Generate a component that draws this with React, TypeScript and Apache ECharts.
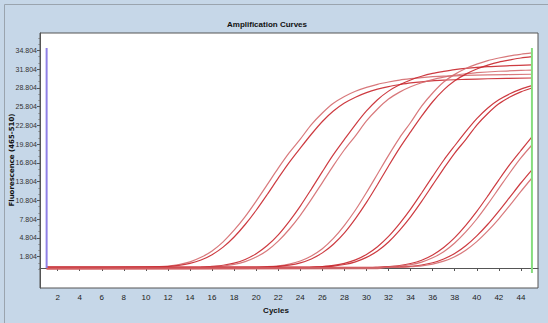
import React, { useEffect, useRef } from "react";
import * as echarts from "echarts";

// Tick labels
const xTicks = [2, 4, 6, 8, 10, 12, 14, 16, 18, 20, 22, 24, 26, 28, 30, 32, 34, 36, 38, 40, 42, 44];
const yTicks = [1.804, 4.804, 7.804, 10.804, 13.804, 16.804, 19.804, 22.804, 25.804, 28.804, 31.804, 34.804];
const yMinorTicks = [
  -0.196, 0.804, 2.804, 3.804, 5.804, 6.804, 8.804, 9.804, 11.804, 12.804, 14.804, 15.804, 17.804, 18.804,
  20.804, 21.804, 23.804, 24.804, 26.804, 27.804, 29.804, 30.804, 32.804, 33.804, 35.804, 36.804,
];

// Amplification curves: [cycle, fluorescence]
const curveA1 = [[1, 0], [10, 0.1], [11, 0.19], [12, 0.31], [13, 0.56], [14, 0.99], [15, 1.71], [16, 2.73], [17, 4.19], [18, 6.05], [19, 8.22], [20, 10.7], [21, 13.33], [22, 15.97], [23, 18.45], [24, 20.62], [25, 22.94], [26, 24.8], [27, 26.35], [28, 27.44], [29, 28.27], [30, 28.89], [31, 29.39], [32, 29.76], [33, 30.07], [34, 30.29], [35, 30.47], [37, 30.69], [39, 30.81], [41, 30.91], [45, 31.0]];
const curveA2 = [[1, 0.15], [11, 0.18], [12, 0.24], [13, 0.41], [14, 0.73], [15, 1.28], [16, 2.13], [17, 3.34], [18, 4.96], [19, 6.96], [20, 9.24], [21, 11.76], [22, 14.38], [23, 16.9], [24, 19.18], [25, 21.4], [26, 23.44], [27, 25.11], [28, 26.39], [29, 27.33], [30, 28.06], [31, 28.61], [32, 29.03], [33, 29.34], [34, 29.61], [35, 29.79], [37, 30.05], [39, 30.18], [41, 30.28], [45, 30.4]];
const curveB1 = [[1, 0], [15, 0.12], [16, 0.25], [17, 0.44], [18, 0.78], [19, 1.37], [20, 2.28], [21, 3.59], [22, 5.31], [23, 7.47], [24, 9.91], [25, 12.62], [26, 15.42], [27, 18.13], [28, 20.57], [29, 22.95], [30, 25.13], [31, 26.93], [32, 28.3], [33, 29.31], [34, 30.09], [35, 30.68], [36, 31.13], [37, 31.46], [38, 31.75], [39, 31.95], [41, 32.21], [43, 32.37], [45, 32.5]];
const curveB2 = [[1, -0.15], [15, -0.05], [16, 0.19], [17, 0.32], [18, 0.57], [19, 1.02], [20, 1.75], [21, 2.8], [22, 4.29], [23, 6.2], [24, 8.43], [25, 10.97], [26, 13.67], [27, 16.38], [28, 18.92], [29, 21.15], [30, 23.53], [31, 25.44], [32, 27.03], [33, 28.14], [34, 29.0], [35, 29.64], [36, 30.15], [37, 30.53], [38, 30.85], [39, 31.07], [40, 31.26], [42, 31.48], [44, 31.61], [45, 31.67]];
const curveC1 = [[1, 0.1], [20, 0.15], [21, 0.21], [22, 0.35], [23, 0.63], [24, 1.12], [25, 1.93], [26, 3.08], [27, 4.73], [28, 6.83], [29, 9.28], [30, 12.08], [31, 15.05], [32, 18.03], [33, 20.83], [34, 23.28], [35, 25.9], [36, 28.0], [37, 29.75], [38, 30.98], [39, 31.92], [40, 32.62], [41, 33.18], [42, 33.6], [43, 33.95], [44, 34.2], [45, 34.41]];
const curveC2 = [[1, 0], [20, 0.05], [21, 0.15], [22, 0.27], [23, 0.47], [24, 0.83], [25, 1.45], [26, 2.42], [27, 3.8], [28, 5.62], [29, 7.9], [30, 10.49], [31, 13.35], [32, 16.32], [33, 19.18], [34, 21.77], [35, 24.29], [36, 26.6], [37, 28.5], [38, 29.95], [39, 31.02], [40, 31.84], [41, 32.46], [42, 32.95], [43, 33.29], [44, 33.6], [45, 33.81]];
const curveD1 = [[1, -0.1], [24, -0.05], [25, 0.12], [26, 0.24], [27, 0.42], [28, 0.74], [29, 1.3], [30, 2.17], [31, 3.41], [32, 5.05], [33, 7.1], [34, 9.42], [35, 12.0], [36, 14.66], [37, 17.24], [38, 19.56], [39, 21.82], [40, 23.9], [41, 25.61], [42, 26.91], [43, 27.87], [44, 28.61], [45, 29.17]];
const curveD2 = [[1, 0.15], [25, 0.15], [26, 0.19], [27, 0.31], [28, 0.56], [29, 0.99], [30, 1.7], [31, 2.72], [32, 4.17], [33, 6.03], [34, 8.19], [35, 10.66], [36, 13.29], [37, 15.91], [38, 18.39], [39, 20.55], [40, 22.87], [41, 24.72], [42, 26.27], [43, 27.35], [44, 28.18], [45, 28.8]];
const curveE1 = [[1, 0], [30, 0.05], [31, 0.12], [32, 0.23], [33, 0.4], [34, 0.72], [35, 1.25], [36, 2.09], [37, 3.28], [38, 4.86], [39, 6.82], [40, 9.06], [41, 11.53], [42, 14.1], [43, 16.57], [44, 18.8], [45, 20.98]];
const curveE2 = [[1, -0.15], [31, -0.1], [32, 0.18], [33, 0.3], [34, 0.53], [35, 0.95], [36, 1.63], [37, 2.6], [38, 4.0], [39, 5.77], [40, 7.84], [41, 10.21], [42, 12.73], [43, 15.24], [44, 17.61], [45, 19.68]];
const curveF1 = [[1, 0.1], [32, 0.1], [33, 0.16], [34, 0.26], [35, 0.48], [36, 0.84], [37, 1.45], [38, 2.32], [39, 3.56], [40, 5.15], [41, 7.0], [42, 9.11], [43, 11.35], [44, 13.6], [45, 15.71]];
const curveF2 = [[1, 0], [33, 0.08], [34, 0.2], [35, 0.35], [36, 0.62], [37, 1.09], [38, 1.81], [39, 2.85], [40, 4.22], [41, 5.93], [42, 7.87], [43, 10.02], [44, 12.25], [45, 14.4]];

const curves = [
  { name: "A1", data: curveA1, light: true },
  { name: "A2", data: curveA2, light: false },
  { name: "B1", data: curveB1, light: false },
  { name: "B2", data: curveB2, light: true },
  { name: "C1", data: curveC1, light: true },
  { name: "C2", data: curveC2, light: false },
  { name: "D1", data: curveD1, light: false },
  { name: "D2", data: curveD2, light: false },
  { name: "E1", data: curveE1, light: false },
  { name: "E2", data: curveE2, light: true },
  { name: "F1", data: curveF1, light: false },
  { name: "F2", data: curveF2, light: true },
];

// Analysis window markers [cycle, fluorescence]
const startMarker = [[1, 0], [1, 35.2]];
const endMarker = [[45, -0.8], [45, 35.2]];

const FONT = "'Liberation Sans Narrow', 'Liberation Sans', Arial, sans-serif";

export default function App() {
  const ref = useRef<HTMLDivElement>(null);
  useEffect(() => {
    if (!ref.current) return;
    const chart = echarts.init(ref.current, null, { renderer: "svg" });
    const lineSeries: any[] = curves.map((c) => ({
      name: c.name,
      type: "line",
      data: c.data,
      smooth: 0.3,
      showSymbol: false,
      symbol: "none",
      lineStyle: { color: c.light ? "#d46a6e" : "#c8262c", width: 1.2, opacity: 0.9 },
      z: 3,
    }));
    lineSeries.push({
      name: "start",
      type: "line",
      data: startMarker,
      symbol: "none",
      lineStyle: { color: "#8f80e6", width: 2 },
      z: 4,
    });
    lineSeries.push({
      name: "end",
      type: "line",
      data: endMarker,
      symbol: "none",
      lineStyle: { color: "#86dc7e", width: 2 },
      z: 4,
    });
    chart.setOption({
      animation: false,
      backgroundColor: "#c6d7e8",
      title: {
        text: "Amplification Curves",
        left: 262,
        top: 15,
        textAlign: "center",
        textStyle: { fontSize: 8, fontWeight: "bold", color: "#111", fontFamily: FONT },
      },
      grid: {
        left: 40,
        top: 33,
        right: 10,
        bottom: 35,
        show: true,
        backgroundColor: "#ffffff",
        borderColor: "#555555",
        borderWidth: 1,
        containLabel: false,
      },
      xAxis: {
        type: "value",
        min: 0.4,
        max: 45.55,
        axisLine: { show: true, lineStyle: { color: "#555555", width: 1 } },
        axisTick: { show: true, length: 3, customValues: xTicks, lineStyle: { color: "#555" } },
        axisLabel: {
          customValues: xTicks,
          fontSize: 8,
          color: "#222",
          margin: 5,
          fontFamily: FONT,
        },
        splitLine: { show: false },
      },
      yAxis: [
        {
          type: "value",
          min: -3.2,
          max: 37.6,
          axisLine: { show: true, lineStyle: { color: "#555555", width: 1 } },
          axisTick: { show: true, length: 3, customValues: yTicks, lineStyle: { color: "#555" } },
          axisLabel: {
            customValues: yTicks,
            formatter: (v: number) => v.toFixed(3),
            fontSize: 7,
            color: "#333",
            margin: 3,
            fontFamily: FONT,
          },
          splitLine: { show: false },
        },
        {
          type: "value",
          min: -3.2,
          max: 37.6,
          position: "left",
          axisLine: { show: false },
          axisTick: { show: true, length: 1.5, customValues: yMinorTicks, lineStyle: { color: "#777" } },
          axisLabel: { show: false },
          splitLine: { show: false },
        },
      ],
      graphic: [
        {
          type: "rect",
          shape: { x: 4.5, y: 4.5, width: 700, height: 500 },
          style: { fill: "none", stroke: "#9aa4ae", lineWidth: 1 },
          silent: true,
        },
        {
          type: "text",
          x: 276,
          y: 310,
          style: {
            text: "Cycles",
            fontSize: 8,
            fontWeight: "bold",
            fill: "#111",
            fontFamily: FONT,
            align: "center",
            verticalAlign: "middle",
          },
        },
        {
          type: "text",
          x: 12,
          y: 160,
          rotation: Math.PI / 2,
          style: {
            text: "Fluorescence (465-510)",
            fontSize: 7,
            fontWeight: "bold",
            fill: "#111",
            fontFamily: "'DejaVu Sans', sans-serif",
            align: "center",
            verticalAlign: "middle",
          },
        },
      ],
      series: lineSeries,
    });
    return () => chart.dispose();
  }, []);
  return <div ref={ref} style={{ position: "fixed", left: 0, top: 0, width: 548, height: 323 }} />;
}
